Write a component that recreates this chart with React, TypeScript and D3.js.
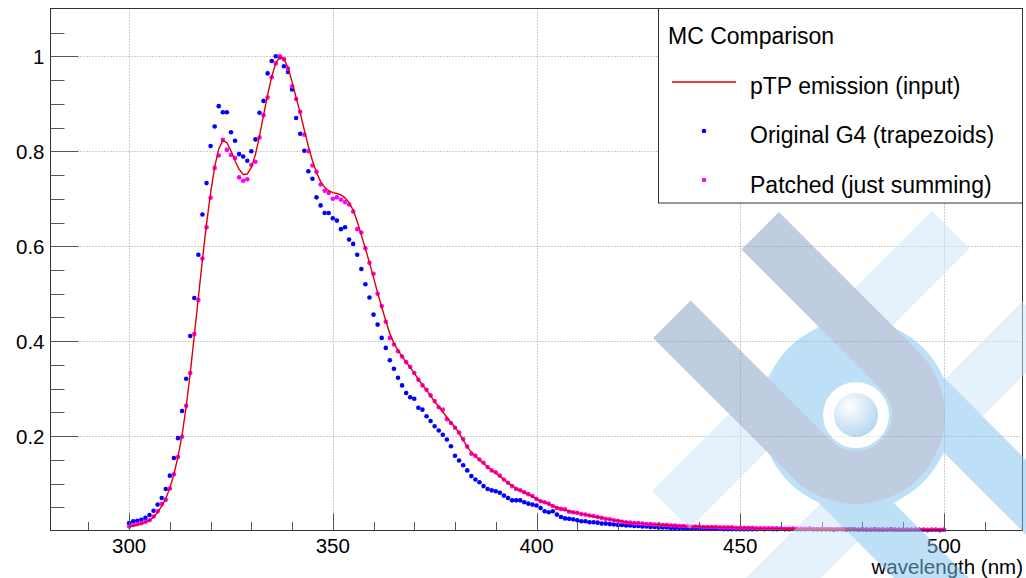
import React from "react";
import * as d3 from "d3";

// ---------------- data ----------------
const wavelengths: number[] = d3.range(300, 501, 1);

// pTP emission (input) – red line
const inputValues: number[] = [
  0.009, 0.011, 0.013, 0.016, 0.019, 0.023, 0.030, 0.040, 0.053, 0.069,
  0.091, 0.120, 0.157, 0.203, 0.262, 0.333, 0.412, 0.492, 0.572, 0.647,
  0.712, 0.767, 0.805, 0.823, 0.818, 0.801, 0.780, 0.762, 0.751, 0.752,
  0.766, 0.793, 0.832, 0.876, 0.919, 0.957, 0.985, 0.999, 0.995, 0.976,
  0.946, 0.913, 0.880, 0.845, 0.810, 0.780, 0.755, 0.736, 0.724, 0.717,
  0.713, 0.711, 0.708, 0.702, 0.692, 0.676, 0.652, 0.624, 0.595, 0.565,
  0.534, 0.502, 0.472, 0.443, 0.416, 0.396, 0.381, 0.368, 0.356, 0.345,
  0.333, 0.320, 0.308, 0.297, 0.285, 0.273, 0.262, 0.251, 0.240, 0.229,
  0.219, 0.206, 0.192, 0.178, 0.166, 0.158, 0.150, 0.143, 0.135, 0.128,
  0.122, 0.116, 0.109, 0.102, 0.096, 0.090, 0.086, 0.082, 0.078, 0.073,
  0.068, 0.064, 0.061, 0.057, 0.053, 0.050, 0.047, 0.045, 0.042, 0.040,
  0.038, 0.036, 0.035, 0.033, 0.031, 0.030, 0.028, 0.026, 0.025, 0.023,
  0.022, 0.021, 0.019, 0.018, 0.017, 0.017, 0.016, 0.015, 0.015, 0.014,
  0.014, 0.013, 0.013, 0.012, 0.012, 0.011, 0.011, 0.011, 0.010, 0.010,
  0.010, 0.009, 0.009, 0.009, 0.009, 0.008, 0.008, 0.008, 0.008, 0.007,
  0.007, 0.007, 0.007, 0.007, 0.006, 0.006, 0.006, 0.006, 0.006, 0.006,
  0.005, 0.005, 0.005, 0.005, 0.005, 0.005, 0.005, 0.005, 0.004, 0.004,
  0.004, 0.004, 0.004, 0.004, 0.004, 0.004, 0.004, 0.004, 0.004, 0.004,
  0.004, 0.004, 0.003, 0.003, 0.003, 0.003, 0.003, 0.003, 0.003, 0.003,
  0.003, 0.003, 0.003, 0.003, 0.003, 0.003, 0.003, 0.003, 0.003, 0.003,
  0.003,
];

// Original G4 (trapezoids) – blue points
const originalValues: number[] = [
  0.017, 0.021, 0.022, 0.024, 0.028, 0.034, 0.043, 0.056, 0.070, 0.089,
  0.117, 0.154, 0.196, 0.253, 0.321, 0.411, 0.491, 0.582, 0.667, 0.733,
  0.811, 0.852, 0.895, 0.882, 0.882, 0.840, 0.822, 0.794, 0.789, 0.780,
  0.800, 0.825, 0.881, 0.906, 0.964, 0.990, 1.000, 0.998, 0.979, 0.967,
  0.930, 0.870, 0.837, 0.801, 0.758, 0.742, 0.703, 0.686, 0.670, 0.670,
  0.659, 0.654, 0.636, 0.640, 0.614, 0.605, 0.582, 0.552, 0.520, 0.492,
  0.456, 0.435, 0.407, 0.386, 0.360, 0.342, 0.323, 0.307, 0.291, 0.282,
  0.279, 0.260, 0.256, 0.242, 0.232, 0.221, 0.212, 0.203, 0.193, 0.179,
  0.159, 0.149, 0.139, 0.128, 0.116, 0.109, 0.103, 0.095, 0.089, 0.086,
  0.084, 0.081, 0.075, 0.070, 0.065, 0.065, 0.065, 0.061, 0.058, 0.056,
  0.054, 0.049, 0.042, 0.040, 0.042, 0.035, 0.030, 0.027, 0.026, 0.025,
  0.023, 0.021, 0.021, 0.019, 0.019, 0.018, 0.016, 0.016, 0.015, 0.014,
  0.013, 0.013, 0.012, 0.012, 0.011, 0.011, 0.010, 0.010, 0.009, 0.009,
  0.008, 0.008, 0.008, 0.007, 0.007, 0.007, 0.006, 0.006, 0.006, 0.006,
  0.005, 0.005, 0.005, 0.005, 0.005, 0.005, 0.004, 0.004, 0.004, 0.004,
  0.004, 0.004, 0.004, 0.004, 0.004, 0.005, 0.004, 0.005, 0.004, 0.004,
  0.005, 0.004, 0.004, 0.005, 0.004, 0.004, 0.004, 0.005, 0.004, 0.004,
  0.004, 0.004, 0.004, 0.003, 0.004, 0.004, 0.003, 0.004, 0.004, 0.003,
  0.004, 0.003, 0.003, 0.004, 0.003, 0.003, 0.003, 0.004, 0.003, 0.003,
  0.003, 0.003, 0.003, 0.003, 0.003, 0.003, 0.002, 0.003, 0.003, 0.002,
  0.003,
];

// Patched (just summing) – magenta points
const patchedValues: number[] = [
  0.010, 0.013, 0.015, 0.017, 0.020, 0.023, 0.031, 0.042, 0.057, 0.066,
  0.090, 0.120, 0.156, 0.199, 0.264, 0.333, 0.415, 0.487, 0.574, 0.640,
  0.702, 0.765, 0.791, 0.824, 0.803, 0.792, 0.786, 0.745, 0.738, 0.741,
  0.771, 0.778, 0.829, 0.876, 0.913, 0.956, 0.985, 1.000, 0.994, 0.974,
  0.937, 0.910, 0.883, 0.835, 0.800, 0.770, 0.757, 0.730, 0.717, 0.712,
  0.700, 0.703, 0.698, 0.693, 0.688, 0.673, 0.636, 0.629, 0.596, 0.565,
  0.542, 0.500, 0.474, 0.441, 0.407, 0.393, 0.379, 0.368, 0.356, 0.346,
  0.333, 0.319, 0.307, 0.298, 0.286, 0.274, 0.261, 0.256, 0.236, 0.228,
  0.218, 0.208, 0.194, 0.178, 0.163, 0.159, 0.151, 0.144, 0.135, 0.128,
  0.124, 0.117, 0.109, 0.102, 0.095, 0.089, 0.086, 0.082, 0.078, 0.074,
  0.068, 0.063, 0.061, 0.058, 0.053, 0.049, 0.047, 0.046, 0.041, 0.040,
  0.039, 0.036, 0.035, 0.033, 0.032, 0.030, 0.028, 0.026, 0.025, 0.023,
  0.022, 0.020, 0.019, 0.018, 0.017, 0.017, 0.016, 0.015, 0.015, 0.014,
  0.014, 0.013, 0.013, 0.012, 0.012, 0.011, 0.011, 0.011, 0.010, 0.010,
  0.010, 0.009, 0.009, 0.009, 0.009, 0.008, 0.008, 0.008, 0.008, 0.007,
  0.007, 0.007, 0.007, 0.007, 0.006, 0.006, 0.006, 0.006, 0.006, 0.006,
  0.005, 0.005, 0.005, 0.005, 0.005, 0.005, 0.005, 0.005, 0.004, 0.004,
  0.004, 0.004, 0.004, 0.004, 0.004, 0.004, 0.004, 0.004, 0.004, 0.003,
  0.003, 0.004, 0.003, 0.003, 0.003, 0.004, 0.003, 0.003, 0.003, 0.003,
  0.003, 0.003, 0.003, 0.003, 0.003, 0.003, 0.003, 0.003, 0.003, 0.003,
  0.003,
];

const xMajorTicks: number[] = [300, 350, 400, 450, 500];
const xMinorTicks: number[] = [290, 310, 320, 330, 340, 360, 370, 380, 390, 410, 420, 430, 440, 460, 470, 480, 490, 510];
const yMajorTicks: number[] = [0.2, 0.4, 0.6, 0.8, 1.0];
const yMinorTicks: number[] = [0.05, 0.1, 0.15, 0.25, 0.3, 0.35, 0.45, 0.5, 0.55, 0.65, 0.7, 0.75, 0.85, 0.9, 0.95, 1.05];
const yTickLabels: string[] = ["0.2", "0.4", "0.6", "0.8", "1"];

const legendTitle = "MC Comparison";
const seriesNames: string[] = ["pTP emission (input)", "Original G4 (trapezoids)", "Patched (just summing)"];
const xTitle = "wavelength (nm)";

// ---------------- layout ----------------
const W = 1026;
const H = 578;
const FL = 50.5, FR = 1022.5, FT = 8.5, FB = 530.5;
const FONT = "'Liberation Sans', Arial, Helvetica, sans-serif";

const x = d3.scaleLinear().domain([280.7, 519.3]).range([FL, FR]);
const y = d3.scaleLinear().domain([0.0015, 1.1006]).range([FB, FT]);

function band(cx: number, cy: number, dx: number, dy: number, t: number, s0: number, s1: number, w: number): string {
  const px = -dy, py = dx;
  const ox = cx + px * t, oy = cy + py * t;
  const a = [ox + dx * s0, oy + dy * s0];
  const b = [ox + dx * s1, oy + dy * s1];
  const h = w / 2;
  const pts = [
    [a[0] + px * h, a[1] + py * h],
    [b[0] + px * h, b[1] + py * h],
    [b[0] - px * h, b[1] - py * h],
    [a[0] - px * h, a[1] - py * h],
  ];
  return "M" + pts.map((p) => p[0].toFixed(1) + "," + p[1].toFixed(1)).join("L") + "Z";
}

function Watermark() {
  const cx = 856, cy = 415;
  const r2 = Math.SQRT1_2;
  const pale = "#cde5f9";
  const sat = "#7dc3ef";
  const gray = "#839bc3";
  const armOff = 62.5;
  const aS = [cx - armOff * r2 - 140, cy + armOff * r2 - 140];
  const aE = [cx - armOff * r2, cy + armOff * r2];
  const bE = [cx + armOff * r2, cy - armOff * r2];
  const bS = [cx + armOff * r2 - 140, cy - armOff * r2 - 140];
  const uPath = `M${aS[0]},${aS[1]} L${aE[0]},${aE[1]} A${armOff},${armOff} 0 0 0 ${bE[0]},${bE[1]} L${bS[0]},${bS[1]}`;
  return (
    <g opacity={0.5}>
      <defs>
        <radialGradient id="sph" cx="0.35" cy="0.3" r="0.75">
          <stop offset="0" stopColor="#ffffff" />
          <stop offset="1" stopColor="#6aaee6" />
        </radialGradient>
      </defs>
      <path d={band(cx, cy, -r2, r2, -64, -198, 198, 53)} fill={pale} />
      <path d={band(cx, cy, -r2, r2, 64, -198, 198, 53)} fill={pale} />
      <path d={band(cx, cy, r2, r2, -62, -40, 230, 53)} fill={sat} />
      <path d={band(cx, cy, r2, r2, 62, -40, 230, 53)} fill={sat} />
      <circle cx={cx} cy={cy} r={95} fill={sat} />
      <path d={uPath} fill="none" stroke={gray} strokeWidth={53} />
      <circle cx={cx} cy={cy} r={33} fill="#ffffff" />
      <circle cx={cx} cy={cy} r={22} fill="url(#sph)" />
    </g>
  );
}

export default function App() {
  const line = d3
    .line<number>()
    .x((_, i) => x(wavelengths[i]))
    .y((v) => y(v));
  const tickColor = "#555";
  return (
    <svg width={W} height={H} style={{ position: "absolute", left: 0, top: 0 }} fontFamily={FONT}>
      <rect x={0} y={0} width={W} height={H} fill="#ffffff" />
      {/* grid */}
      <g stroke="#9a9a9a" strokeWidth={1} strokeDasharray="1 2">
        {xMajorTicks.map((t) => (
          <line key={"gx" + t} x1={Math.round(x(t)) + 0.5} x2={Math.round(x(t)) + 0.5} y1={FT} y2={FB} />
        ))}
        {yMajorTicks.map((t) => (
          <line key={"gy" + t} x1={FL} x2={FR} y1={Math.round(y(t)) + 0.5} y2={Math.round(y(t)) + 0.5} />
        ))}
      </g>
      {/* data */}
      <g>
        {originalValues.map((v, i) => (
          <circle key={"b" + i} cx={x(wavelengths[i])} cy={y(v)} r={2.3} fill="#0000ff" />
        ))}
        {patchedValues.map((v, i) => (
          <circle key={"m" + i} cx={x(wavelengths[i])} cy={y(v)} r={2.3} fill="#ff00ff" />
        ))}
        <path d={line(inputValues) || ""} fill="none" stroke="#e00000" strokeWidth={1.4} />
      </g>
      {/* frame */}
      <rect x={FL} y={FT} width={FR - FL} height={FB - FT} fill="none" stroke="#333" strokeWidth={1} />
      {/* ticks */}
      <g stroke={tickColor} strokeWidth={1}>
        {xMajorTicks.map((t) => (
          <line key={"xt" + t} x1={Math.round(x(t)) + 0.5} x2={Math.round(x(t)) + 0.5} y1={FB} y2={FB - 17} />
        ))}
        {xMinorTicks.map((t) => (
          <line key={"xm" + t} x1={Math.round(x(t)) + 0.5} x2={Math.round(x(t)) + 0.5} y1={FB} y2={FB - 8.5} />
        ))}
        {yMajorTicks.map((t) => (
          <line key={"yt" + t} x1={FL} x2={FL + 28} y1={Math.round(y(t)) + 0.5} y2={Math.round(y(t)) + 0.5} />
        ))}
        {yMinorTicks.map((t) => (
          <line key={"ym" + t} x1={FL} x2={FL + 14} y1={Math.round(y(t)) + 0.5} y2={Math.round(y(t)) + 0.5} />
        ))}
      </g>
      {/* tick labels */}
      <g fontSize={20.5} fill="#000">
        {xMajorTicks.map((t) => (
          <text key={"xl" + t} x={x(t)} y={553} textAnchor="middle">
            {String(t)}
          </text>
        ))}
        {yMajorTicks.map((t, i) => (
          <text key={"yl" + t} x={44.5} y={y(t) + 7.5} textAnchor="end">
            {yTickLabels[i]}
          </text>
        ))}
      </g>
      <text x={1023} y={574} fontSize={20.5} textAnchor="end" fill="#000">
        {xTitle}
      </text>
      {/* legend */}
      <g>
        <rect x={658.5} y={8.5} width={364} height={194.5} fill="#fff" stroke="#333" strokeWidth={1} />
        <text x={668} y={44} fontSize={23} fill="#000">
          {legendTitle}
        </text>
        <line x1={672} x2={736} y1={82} y2={82} stroke="#e00000" strokeWidth={1.4} />
        <circle cx={704} cy={131} r={2.3} fill="#0000ff" />
        <circle cx={704} cy={180} r={2.3} fill="#ff00ff" />
        {seriesNames.map((n, i) => (
          <text key={n} x={750} y={93.5 + i * 49.5} fontSize={23} fill="#000">
            {n}
          </text>
        ))}
      </g>
      <Watermark />
    </svg>
  );
}
